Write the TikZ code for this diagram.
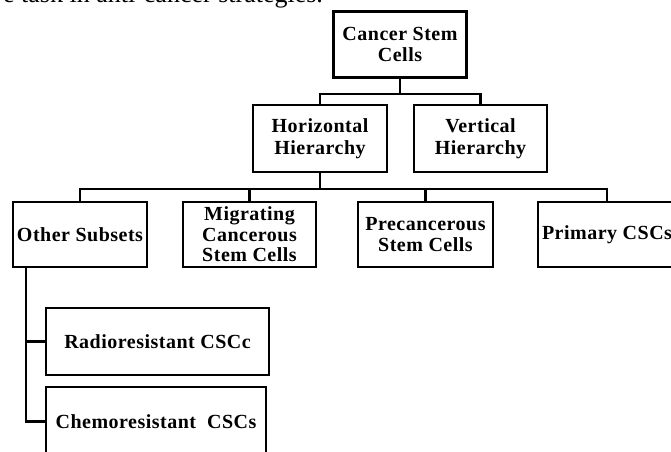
\documentclass[tikz,border=0pt]{standalone}
\usepackage{fontspec}
\setmainfont{Liberation Serif}
\newfontfamily\boxfont[LetterSpace=2.5]{Liberation Serif}
\usetikzlibrary{calc}

\begin{document}
\begin{tikzpicture}[x=1pt,y=-1pt,line width=2.2pt,
	cell/.style={draw,align=center,inner sep=0pt,minimum height=67pt,font=\boxfont\bfseries\fontsize{20}{21.5}\selectfont}]
		\useasboundingbox (0,0) rectangle (671,451);
		\clip (0,0) rectangle (671,451);
		\node[anchor=base east,inner sep=0pt,font=\fontsize{26}{28}\selectfont] (intro) at (324,2.5) {e task in anti-cancer strategies.}; %cut-off text line
		\node[cell,minimum width=133pt,minimum height=66pt] (csc) at (400,44.5) {Cancer Stem\\Cells}; %root
		\node[cell,minimum width=134pt] (hor) at (320,138.5) {Horizontal\\Hierarchy};
		\node[cell,minimum width=133pt] (ver) at (480.5,138.5) {Vertical\\Hierarchy};
		\node[cell,minimum width=134pt,minimum height=65pt] (oth) at (80,234.5) {Other Subsets};
		\node[cell,minimum width=133pt,minimum height=65pt,font=\boxfont\bfseries\fontsize{20}{20.5}\selectfont] (mig) at (249.5,234.5) {Migrating\\Cancerous\\Stem Cells};
		\node[cell,minimum width=135pt,minimum height=65pt] (pre) at (425.5,234.5) {Precancerous\\Stem Cells};
		\node[cell,minimum width=138pt,minimum height=65pt] (pri) at (607,234.5) {Primary CSCs};
		\node[cell,minimum width=223pt] (rad) at (157.5,341.5) {Radioresistant CSCc};
		\node[cell,minimum width=220pt,minimum height=69pt] (che) at (156,421.5) {Chemoresistant\ \ CSCs};
		\foreach \t in {hor,ver}{ %level 1
			\draw (csc.south) -- ++(0,15) -| (\t.north);
		}
		\foreach \t in {oth,mig,pre,pri}{ %level 2
			\draw (hor.south) -- ++(0,16) -| (\t.north);
		}
		\coordinate (trunk) at ($(oth.south west)+(14,0)$); %other subsets
		\draw (trunk) |- (rad.west);
		\draw (trunk) |- (che.west);
	\end{tikzpicture}
\end{document}
